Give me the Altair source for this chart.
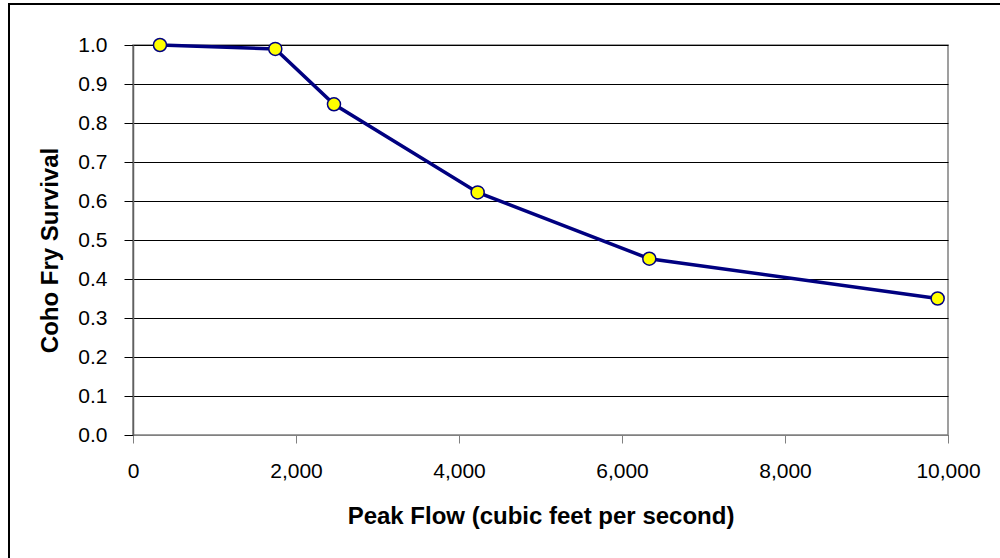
import altair as alt
import pandas as pd

peak_flow = [331, 1746, 2466, 4229, 6335, 9873]
survival = [1.0, 0.990, 0.848, 0.622, 0.452, 0.350]

df = pd.DataFrame({"flow": peak_flow, "survival": survival})

FONT = "Liberation Sans"

x_enc = alt.X(
    "flow:Q",
    scale=alt.Scale(domain=[0, 10000], nice=False),
    axis=alt.Axis(
        values=[0, 2000, 4000, 6000, 8000, 10000],
        format=",.0f",
        grid=False,
        tickSize=8,
        tickColor="#808080",
        domainColor="#808080",
        labelFont=FONT,
        labelFontSize=21,
        labelColor="#000",
        labelPadding=17,
        labelFlush=False,
        labelOverlap=False,
        title="Peak Flow (cubic feet per second)",
        titleFont=FONT,
        titleFontSize=24,
        titleFontWeight="bold",
        titleColor="#000",
        titlePadding=23,
    ),
)
y_enc = alt.Y(
    "survival:Q",
    scale=alt.Scale(domain=[0, 1.0], nice=False),
    axis=alt.Axis(
        values=[0, 0.1, 0.2, 0.3, 0.4, 0.5, 0.6, 0.7, 0.8, 0.9, 1.0],
        format=".1f",
        grid=True,
        gridColor="#000",
        gridWidth=1,
        gridOpacity=1,
        tickSize=9,
        tickColor="#000",
        domainColor="#606060",
        domainWidth=1.5,
        labelFont=FONT,
        labelFontSize=21,
        labelColor="#000",
        labelPadding=17,
        labelFlush=False,
        title="Coho Fry Survival",
        titleFont=FONT,
        titleFontSize=24,
        titleFontWeight="bold",
        titleColor="#000",
        titlePadding=15,
        titleY=205,
    ),
)

base = alt.Chart(df).encode(x=x_enc, y=y_enc)

line = base.mark_line(color="#000080", strokeWidth=3.5)
pts = base.mark_point(
    filled=True, fill="#FFFF00", stroke="#000080", strokeWidth=1.5, size=170, opacity=1
)

border = alt.Chart(df).mark_rect(
    fill=None, stroke="#000", strokeWidth=1.5, clip=False
).encode(
    x=alt.value(-124), x2=alt.value(880), y=alt.value(-41), y2=alt.value(540)
)

chart = (
    alt.layer(line, pts, border)
    .properties(
        width=815,
        height=390,
        autosize=alt.AutoSizeParams(type="none"),
        padding={"left": 133, "top": 45, "right": 52, "bottom": 123},
        background="#ffffff",
    )
    .configure_view(stroke="#808080", strokeWidth=1.5)
)

chart.save("out.html", embed_options={"renderer": "svg", "actions": False})
